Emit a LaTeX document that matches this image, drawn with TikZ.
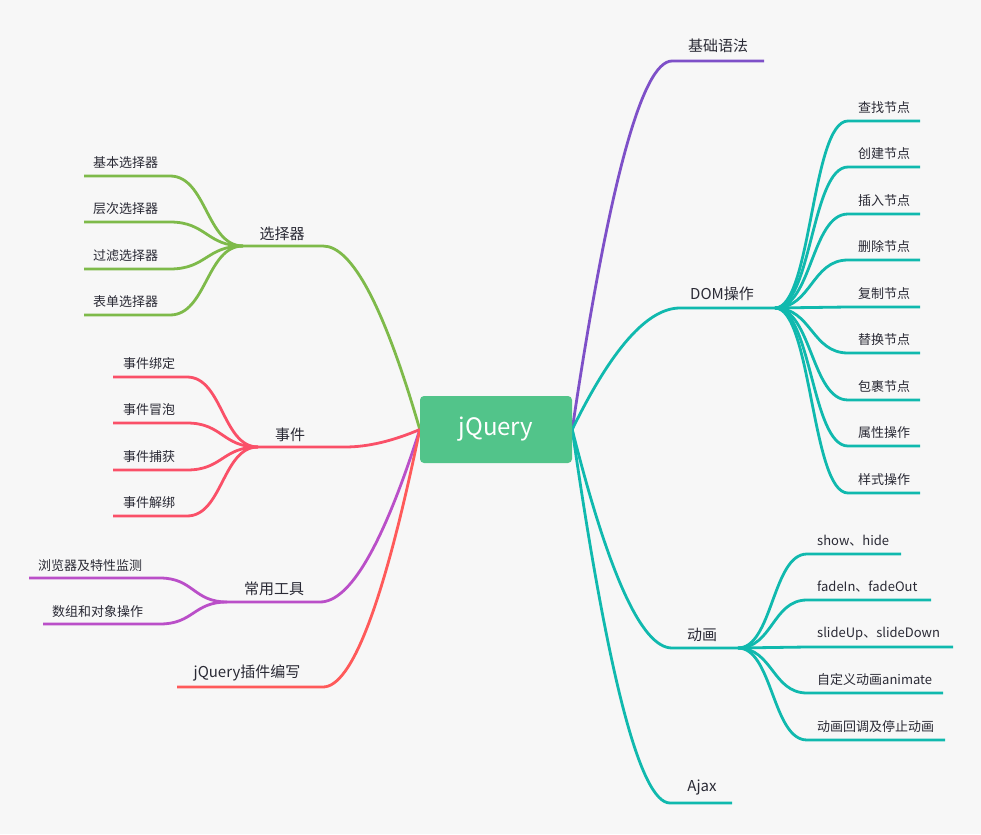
\documentclass[tikz,border=0pt]{standalone}
\usepackage{fontspec}
\setmainfont{Noto Sans CJK SC}
\usetikzlibrary{calc}
\definecolor{bgc}{HTML}{F7F7F7}
\definecolor{rootc}{HTML}{52C48A}
\definecolor{cgreen}{HTML}{7EBA4A}
\definecolor{cred}{HTML}{FA5068}
\definecolor{credb}{HTML}{FF5A5A}
\definecolor{cpurple}{HTML}{BA4FC8}
\definecolor{cviolet}{HTML}{7E50C8}
\definecolor{cteal}{HTML}{10B9AE}
\definecolor{txt}{HTML}{2A2A35}
\pgfdeclarelayer{bglayer}
\pgfsetlayers{bglayer,main}
\begin{document}
\begin{tikzpicture}[x=1pt,y=-1pt,
  link/.style={line width=2.8pt},
  mainlbl/.style={font=\fontsize{15}{18}\selectfont, text=txt, inner sep=0pt},
  sublbl/.style={font=\fontsize{13}{16}\selectfont, text=txt, inner sep=0pt, anchor=west},
  rootbox/.style={fill=rootc, rounded corners=4pt, minimum width=152pt, minimum height=67pt,
    inner sep=0pt, text=white, font=\fontsize{24}{28}\selectfont},
  rootcurve/.style={to path={let \p1=(\tikztostart), \p2=(\tikztotarget),
     \p3=({\x1+0.55*(\x2-\x1)},\y2) in
     .. controls ($(\p1)!0.6667!(\p3)$) and ($(\p2)!0.6667!(\p3)$) .. (\p2)}},
  subcurve/.style={to path={let \p1=(\tikztostart), \p2=(\tikztotarget) in
     .. controls ({(\x1+\x2)/2},\y1) and ({(\x1+\x2)/2},\y2) .. (\p2)}}
]
\begin{pgfonlayer}{bglayer}
\fill[bgc] (0,0) rectangle (981,834);
\end{pgfonlayer}
\useasboundingbox (0,0) rectangle (981,834);

\node[rootbox] (root) at (496,429.5) {jQuery};

\begin{pgfonlayer}{bglayer}
% ---------- right side ----------
% 基础语法
\coordinate (k1) at (672,61); \coordinate (k2) at (764,61);
\draw[link,cviolet] (root.east) to[rootcurve] (k1) -- (k2);
% DOM操作
\coordinate (d1) at (680,308); \coordinate (d2) at (775,308);
\draw[link,cteal] (root.east) to[rootcurve] (d1) -- (d2);
\foreach \yy [count=\i] in {121,167,214,260,307,353,400,446,493}{
  \coordinate (dc\i a) at (848,\yy); \coordinate (dc\i b) at (920,\yy);
  \draw[link,cteal] (d2) to[subcurve] (dc\i a) -- (dc\i b);
}
% 动画
\coordinate (a1) at (672,648); \coordinate (a2) at (738,648);
\draw[link,cteal] (root.east) to[rootcurve] (a1) -- (a2);
\foreach \yy/\xe [count=\i] in {554/901,600/931,647/953,693/943,740/945}{
  \coordinate (ac\i a) at (807,\yy); \coordinate (ac\i b) at (\xe,\yy);
  \draw[link,cteal] (a2) to[subcurve] (ac\i a) -- (ac\i b);
}
% Ajax
\coordinate (j1) at (670,803); \coordinate (j2) at (732,803);
\draw[link,cteal] (root.east) to[rootcurve] (j1) -- (j2);

% ---------- left side ----------
% 选择器
\coordinate (s1) at (323,246); \coordinate (s2) at (243,246);
\draw[link,cgreen] (root.west) to[rootcurve] (s1) -- (s2);
\foreach \yy [count=\i] in {176,222,269,315}{
  \coordinate (sc\i a) at (170,\yy); \coordinate (sc\i b) at (84,\yy);
  \draw[link,cgreen] (s2) to[subcurve] (sc\i a) -- (sc\i b);
}
% 事件
\coordinate (e1) at (345,447); \coordinate (e2) at (258,447);
\draw[link,cred] (root.west) to[rootcurve] (e1) -- (e2);
\foreach \yy [count=\i] in {377,423,470,516}{
  \coordinate (ec\i a) at (187,\yy); \coordinate (ec\i b) at (113,\yy);
  \draw[link,cred] (e2) to[subcurve] (ec\i a) -- (ec\i b);
}
% 常用工具
\coordinate (u1) at (320,602); \coordinate (u2) at (227,602);
\draw[link,cpurple] (root.west) to[rootcurve] (u1) -- (u2);
\coordinate (uc1a) at (160,578); \coordinate (uc1b) at (29,578);
\coordinate (uc2a) at (160,624); \coordinate (uc2b) at (43,624);
\draw[link,cpurple] (u2) to[subcurve] (uc1a) -- (uc1b);
\draw[link,cpurple] (u2) to[subcurve] (uc2a) -- (uc2b);
% jQuery插件编写
\coordinate (p1) at (323,687); \coordinate (p2) at (177,687);
\draw[link,credb] (root.west) to[rootcurve] (p1) -- (p2);
\end{pgfonlayer}

% ---------- labels ----------
\node[mainlbl] (t1) at (718,45.5) {基础语法};
\node[mainlbl] (t2) at (722,293.5) {DOM操作};
\node[mainlbl] (t3) at (702,634.5) {动画};
\node[mainlbl] (t4) at (702,787.5) {Ajax};
\node[mainlbl] (t5) at (282,233.5) {选择器};
\node[mainlbl] (t6) at (290,434.5) {事件};
\node[mainlbl] (t7) at (274,588.5) {常用工具};
\node[mainlbl] (t8) at (247,672.5) {jQuery插件编写};

\node[sublbl] (dl1) at (858,108) {查找节点};
\node[sublbl] (dl2) at (858,154) {创建节点};
\node[sublbl] (dl3) at (858,201) {插入节点};
\node[sublbl] (dl4) at (858,247) {删除节点};
\node[sublbl] (dl5) at (858,294) {复制节点};
\node[sublbl] (dl6) at (858,340) {替换节点};
\node[sublbl] (dl7) at (858,387) {包裹节点};
\node[sublbl] (dl8) at (858,433) {属性操作};
\node[sublbl] (dl9) at (858,480) {样式操作};

\node[sublbl] (al1) at (817,541) {show、hide};
\node[sublbl] (al2) at (817,587) {fadeIn、fadeOut};
\node[sublbl] (al3) at (817,634) {slideUp、slideDown};
\node[sublbl] (al4) at (817,680) {自定义动画animate};
\node[sublbl] (al5) at (817,727) {动画回调及停止动画};

\node[sublbl] (sl1) at (93,163) {基本选择器};
\node[sublbl] (sl2) at (93,209) {层次选择器};
\node[sublbl] (sl3) at (93,256) {过滤选择器};
\node[sublbl] (sl4) at (93,302) {表单选择器};

\node[sublbl] (el1) at (123,364) {事件绑定};
\node[sublbl] (el2) at (123,410) {事件冒泡};
\node[sublbl] (el3) at (123,457) {事件捕获};
\node[sublbl] (el4) at (123,503) {事件解绑};

\node[sublbl] (ul1) at (38,566) {浏览器及特性监测};
\node[sublbl] (ul2) at (52,612) {数组和对象操作};
\end{tikzpicture}
\end{document}
